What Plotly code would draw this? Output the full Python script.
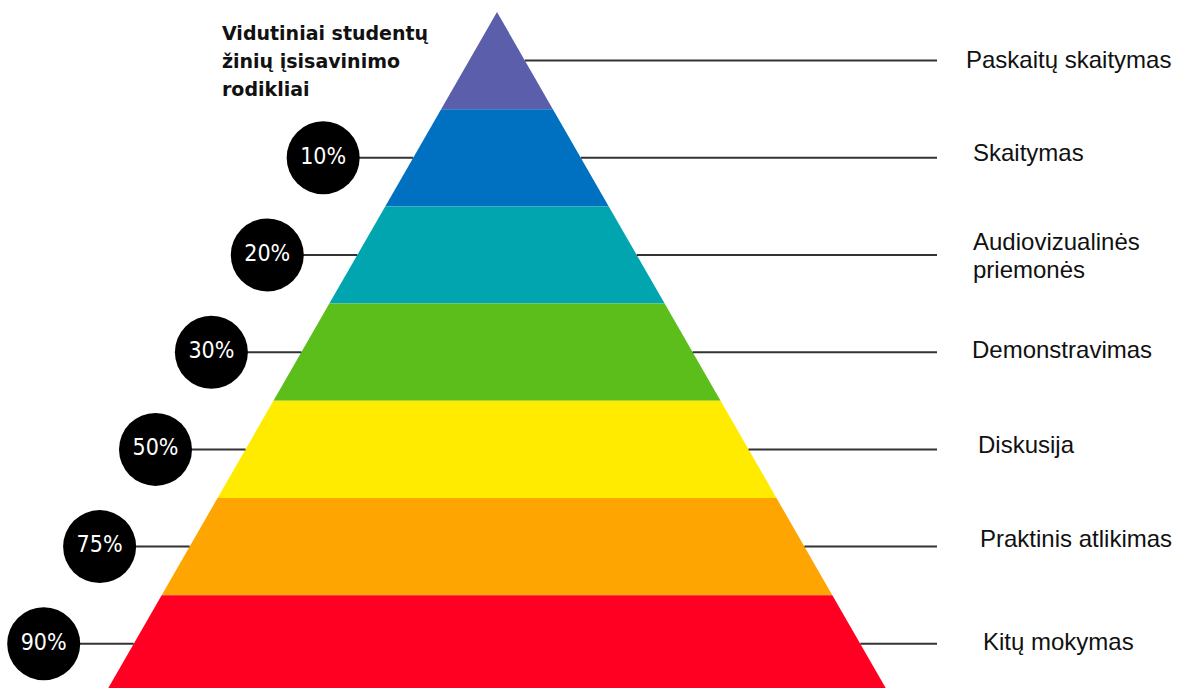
import plotly.graph_objects as go

# ---- data ----
levels = [["Paskaitų skaitymas"], ["Skaitymas"], ["Audiovizualinės", "priemonės"],
          ["Demonstravimas"], ["Diskusija"], ["Praktinis atlikimas"], ["Kitų mokymas"]]
rates = [None, "10%", "20%", "30%", "50%", "75%", "90%"]
colors = ["#5B5EAB", "#0070C0", "#00A5B0", "#5CBE1B", "#FFEB00", "#FFA502", "#FF0022"]
title_lines = ["Vidutiniai studentų", "žinių įsisavinimo", "rodikliai"]

# ---- geometry (pixel-like coordinate system) ----
W, H = 1182, 688
cx, apex_y, layer_h, slope = 497, 12, 97.2, 0.575
line_end_x = 937
label_x = [964, 971, 971, 970, 976, 978, 981]
label_dy = [-1, -5, 0, -3, -5, -8, -2]
circle_gap = 90
line_sp = 28

def half(y):
    return slope * (y - apex_y)

fig = go.Figure()

for i, (name, col) in enumerate(zip(levels, colors)):
    y0 = apex_y + i * layer_h
    y1 = y0 + layer_h
    xs = [cx - half(y0), cx + half(y0), cx + half(y1), cx - half(y1), cx - half(y0)]
    ys = [y0, y0, y1, y1, y0]
    fig.add_trace(go.Scatter(x=xs, y=ys, fill="toself", fillcolor=col, mode="lines",
                             line=dict(width=0, color=col), hoverinfo="skip", showlegend=False))
    ym = (y0 + y1) / 2
    # right connector
    fig.add_trace(go.Scatter(x=[cx + half(ym), line_end_x], y=[ym, ym], mode="lines",
                             line=dict(color="#333333", width=2), hoverinfo="skip", showlegend=False))
    n = len(name)
    for j, part in enumerate(name):
        yy = ym + label_dy[i] + (j - (n - 1) / 2) * line_sp
        fig.add_annotation(x=label_x[i], y=yy, text=part, showarrow=False, xanchor="left",
                           yanchor="middle", align="left",
                           font=dict(family="Liberation Sans, Arial", size=24, color="#111111"))
    if rates[i]:
        ex = cx - half(ym)
        ccx = ex - circle_gap
        fig.add_trace(go.Scatter(x=[ccx, ex], y=[ym, ym], mode="lines",
                                 line=dict(color="#333333", width=2), hoverinfo="skip", showlegend=False))
        fig.add_trace(go.Scatter(x=[ccx], y=[ym], mode="markers+text", text=[rates[i]],
                                 textposition="middle center",
                                 textfont=dict(family="Liberation Sans Narrow, DejaVu Sans Condensed",
                                               size=23, color="white"),
                                 marker=dict(size=73, color="black"), hoverinfo="skip", showlegend=False))

for k, t in enumerate(title_lines):
    fig.add_annotation(x=220, y=33 + k * line_sp, text="<b>" + t + "</b>", showarrow=False,
                       xanchor="left", yanchor="middle", align="left",
                       font=dict(family="DejaVu Sans", size=19, color="#111111"))

fig.update_layout(width=W, height=H, margin=dict(l=0, r=0, t=0, b=0),
                  paper_bgcolor="white", plot_bgcolor="white",
                  xaxis=dict(range=[0, W], visible=False, fixedrange=True),
                  yaxis=dict(range=[H, 0], visible=False, fixedrange=True))

fig.write_html("out.html", config={"displayModeBar": False},
               post_script="document.body.style.margin='0';document.body.style.overflow='hidden';")
